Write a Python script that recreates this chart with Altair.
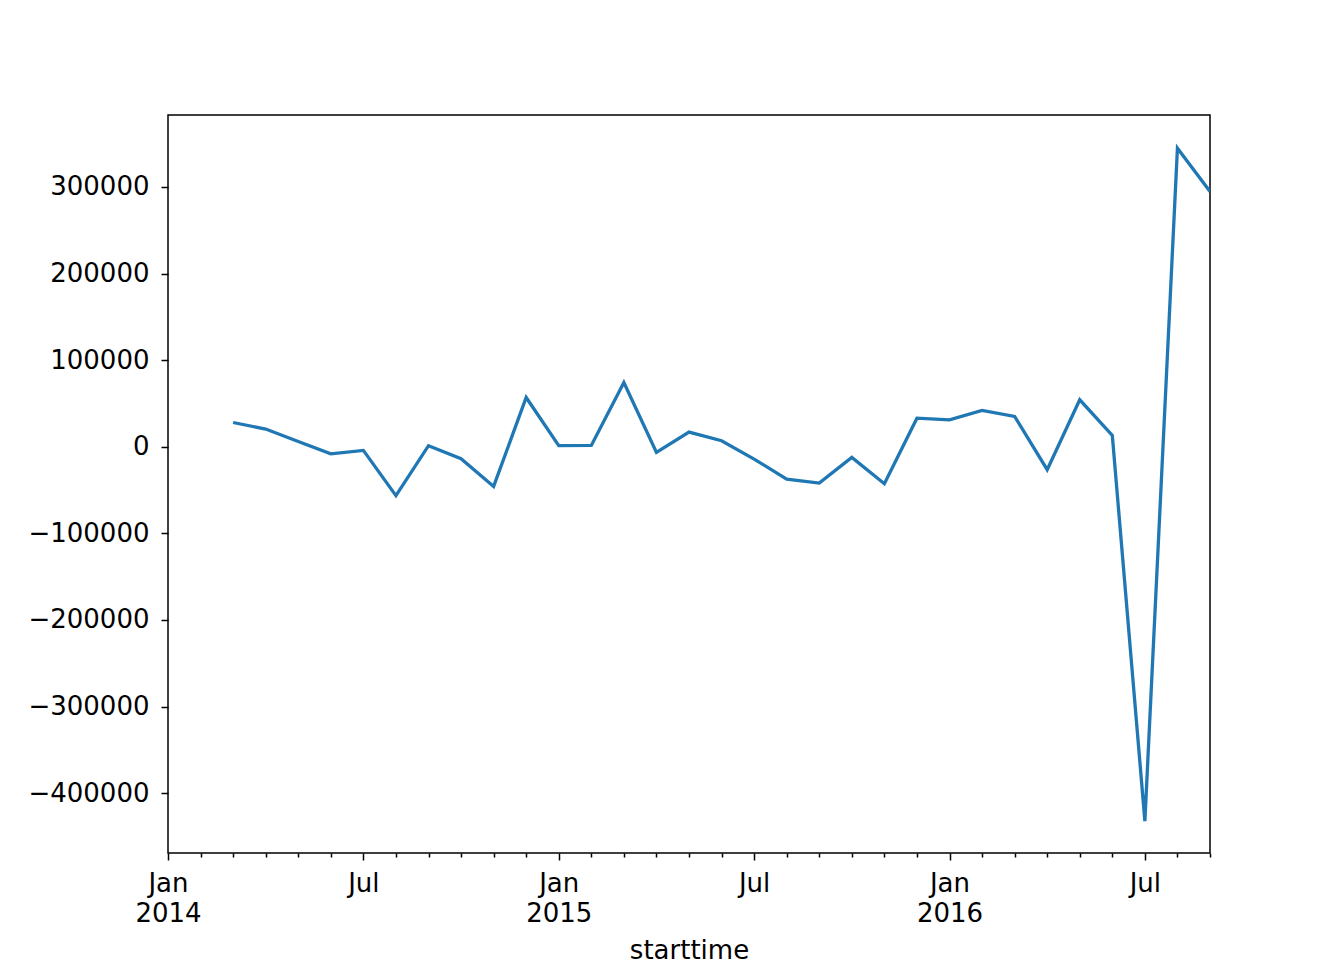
import altair as alt
import pandas as pd

months = [
    "2014-03", "2014-04", "2014-05", "2014-06", "2014-07", "2014-08", "2014-09",
    "2014-10", "2014-11", "2014-12",
    "2015-01", "2015-02", "2015-03", "2015-04", "2015-05", "2015-06", "2015-07",
    "2015-08", "2015-09", "2015-10", "2015-11", "2015-12",
    "2016-01", "2016-02", "2016-03", "2016-04", "2016-05", "2016-06", "2016-07",
    "2016-08", "2016-09",
]
values = [
    28000, 20400, 6000, -8100, -4200, -56500, 1200, -13800, -45800, 56900,
    1200, 1500, 74200, -6500, 16900, 6900, -14200, -37300, -41900, -12300,
    -42700, 33000,
    31100, 41900, 35000, -26500, 54200, 13100, -432300, 344700, 294600,
]

y_ticks = [-400000, -300000, -200000, -100000, 0, 100000, 200000, 300000]
x_ticks = list(range(0, 33))  # month index since Jan 2014

df = pd.DataFrame({"month": months, "value": values})

FONT = "DejaVu Sans"

chart = (
    alt.Chart(df)
    .transform_calculate(
        idx="(toNumber(slice(datum.month, 0, 4)) - 2014) * 12 + toNumber(slice(datum.month, 5, 7)) - 1"
    )
    .mark_line(color="#1f77b4", strokeWidth=3.3, clip=True)
    .encode(
        x=alt.X(
            "idx:Q",
            scale=alt.Scale(domain=[0, 32], nice=False, zero=False),
            axis=alt.Axis(
                title="starttime",
                values=x_ticks,
                labelExpr="datum.value % 12 == 0 ? ['Jan', '' + (2014 + datum.value / 12)] : (datum.value % 12 == 6 ? 'Jul' : '')",
                tickSize={"condition": {"test": "datum.value % 6 == 0", "value": 7}, "value": 4},
                labelOverlap=False,
                labelFlush=False,
                labelPadding=10,
                labelLineHeight=30,
                titlePadding=11,
                grid=False,
                domain=False,
            ),
        ),
        y=alt.Y(
            "value:Q",
            scale=alt.Scale(domain=[-469000, 383000], nice=False, zero=False),
            axis=alt.Axis(
                title=None,
                values=y_ticks,
                format="d",
                tickSize=7,
                labelPadding=12,
                grid=False,
                domain=False,
            ),
        ),
    )
    .properties(
        width=1042,
        height=738,
        autosize=alt.AutoSizeParams(type="none"),
        padding={"left": 160, "top": 107, "right": 126, "bottom": 107},
    )
    .configure_view(stroke="black", strokeWidth=1.5)
    .configure_axis(
        labelFont=FONT,
        titleFont=FONT,
        labelFontSize=26,
        titleFontSize=26,
        titleFontWeight="normal",
        labelColor="black",
        titleColor="black",
        tickColor="black",
        tickWidth=1.5,
    )
)

chart.save("out.html", embed_options={"renderer": "svg", "actions": False})
